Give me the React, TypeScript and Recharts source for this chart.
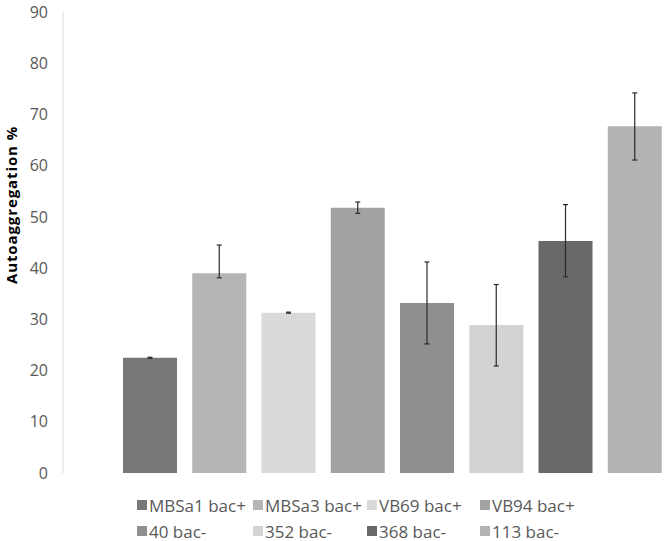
import React from 'react';
import { BarChart, Bar, XAxis, YAxis, ErrorBar, Cell, Legend, Label } from 'recharts';

const categories = ['MBSa1 bac+', 'MBSa3 bac+', 'VB69 bac+', 'VB94 bac+', '40 bac-', '352 bac-', '368 bac-', '113 bac-'];
const values = [22.5, 39.0, 31.3, 51.8, 33.2, 28.9, 45.3, 67.7];
const errLow = [0.1, 0.9, 0.1, 1.1, 8.0, 8.0, 7.0, 6.6];
const errHigh = [0.1, 5.5, 0.1, 1.1, 8.0, 7.9, 7.1, 6.5];
const colors = ['#777777', '#b5b5b5', '#d9d9d9', '#a3a3a3', '#8f8f8f', '#d3d3d3', '#686868', '#b3b3b3'];
const yTicks = [0, 10, 20, 30, 40, 50, 60, 70, 80, 90];

const data = categories.map((name, i) => ({
  name,
  value: values[i],
  err: [errLow[i], errHigh[i]],
}));

const FONT = '"Open Sans", sans-serif';
const legendCols = [116, 114, 113, 110];

const CustomLegend = () => (
  <div
    style={{
      height: 68,
      paddingLeft: 137,
      paddingTop: 19,
      boxSizing: 'border-box',
      display: 'grid',
      gridTemplateColumns: legendCols.map((w) => `${w}px`).join(' '),
      gridAutoRows: '26px',
      fontFamily: FONT,
      fontSize: 17,
      color: '#595959',
    }}
  >
    {categories.map((c, i) => (
      <div key={c} style={{ display: 'flex', alignItems: 'center', whiteSpace: 'nowrap' }}>
        <span style={{ width: 10, height: 10, background: colors[i], marginRight: 2, display: 'inline-block', flexShrink: 0 }} />
        {c}
      </div>
    ))}
  </div>
);

const YLabel = () => (
  <text
    x={17}
    y={205}
    transform="rotate(-90, 17, 205)"
    textAnchor="middle"
    fontFamily={FONT}
    fontSize={15}
    fontWeight="bold"
    letterSpacing={0.9}
    fill="#000"
  >
    Autoaggregation %
  </text>
);

export default function App() {
  return (
    <div style={{ position: 'absolute', left: 0, top: 0, width: 666, height: 541, overflow: 'hidden', background: '#fff' }}>
      <BarChart width={669} height={541} data={data} margin={{ top: 12, right: 0, bottom: 0, left: 0 }}>
        <XAxis dataKey="name" hide padding={{ left: 52, right: 0 }} />
        <YAxis
          domain={[0, 90]}
          ticks={yTicks}
          width={63}
          tickLine={false}
          tickMargin={9}
          axisLine={{ stroke: '#d9d9d9' }}
          tick={{ fill: '#595959', fontSize: 16, fontFamily: FONT }}
          interval={0}
        >
          <Label content={<YLabel />} />
        </YAxis>
        <Legend verticalAlign="bottom" align="left" content={<CustomLegend />} />
        <Bar dataKey="value" barSize={54} isAnimationActive={false}>
          {data.map((d, i) => (
            <Cell key={d.name} fill={colors[i]} />
          ))}
          <ErrorBar dataKey="err" width={2.5} stroke="#2a2a2a" strokeWidth={1.2} direction="y" />
        </Bar>
      </BarChart>
    </div>
  );
}
